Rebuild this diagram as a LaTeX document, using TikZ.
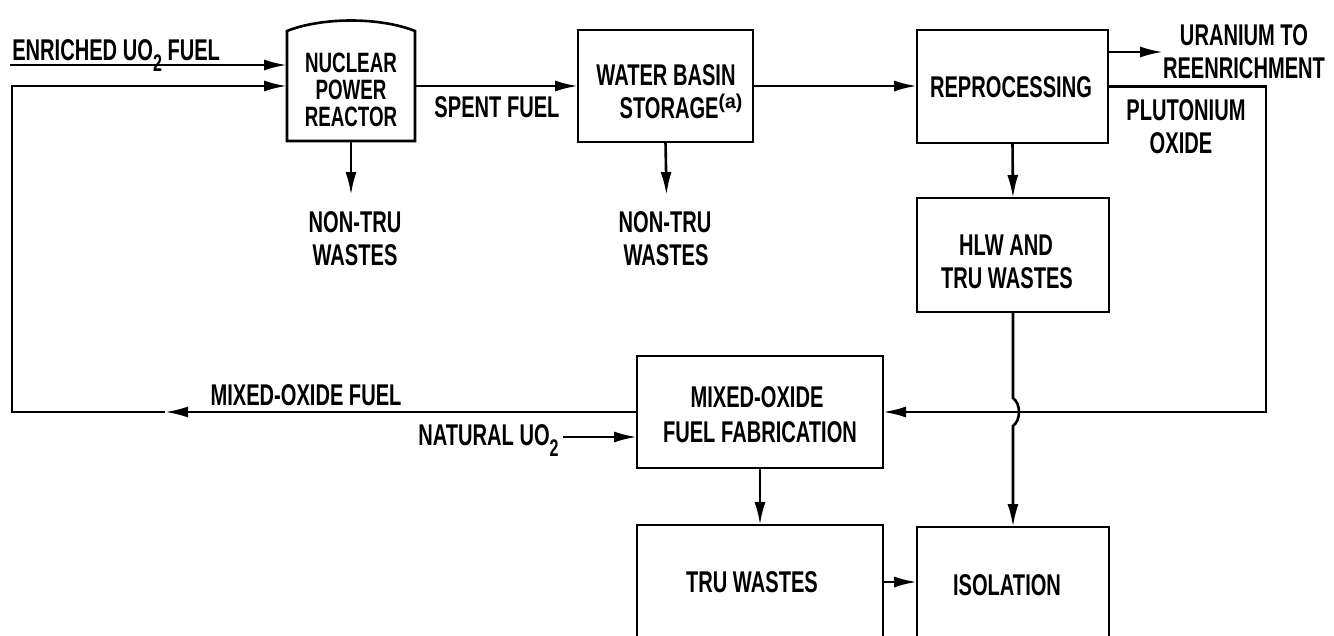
\documentclass[tikz,border=0pt]{standalone}
\usepackage{fontspec}
\setmainfont{Liberation Sans}[FakeStretch=0.67]
\usetikzlibrary{arrows.meta}
\newcommand\subtwo{\raisebox{-11pt}{\fontsize{24}{24}\selectfont 2}}
\newcommand\supa{\raisebox{10pt}{\scalebox{1.45}[1]{\fontsize{20}{20}\selectfont (a)}}}
\begin{document}
\begin{tikzpicture}[x=1pt,y=-1pt,line width=2.6pt,
  txt/.style={font=\fontsize{30}{30}\selectfont\bfseries, inner sep=0pt, anchor=base},
  rtxt/.style={txt, font=\fontsize{28}{28}\selectfont\bfseries},
  box/.style={draw, inner sep=0pt, outer sep=0pt},
  arr/.style={-{Latex[length=23pt,width=11pt]}}]
\useasboundingbox (0,0) rectangle (1334,635);
\clip (0,0) rectangle (1334,635);

% boxes
\node[inner sep=0pt, outer sep=0pt, minimum width=128pt, minimum height=110pt] (reactor) at (351,86) {};
\draw (reactor.north west) .. controls +(35,-14) and +(-35,-14) .. (reactor.north east)
  -- (reactor.south east) -- (reactor.south west) -- cycle;
\node[box, minimum width=175pt, minimum height=112pt] (basin) at (665.5,86) {};
\node[box, minimum width=191pt, minimum height=113pt] (repro) at (1012.5,86.5) {};
\node[box, minimum width=192pt, minimum height=114pt] (hlw) at (1013,255) {};
\node[box, minimum width=246pt, minimum height=112pt] (mox) at (760,412) {};
\node[box, minimum width=246pt, minimum height=130pt] (tru) at (760,590) {};
\node[box, minimum width=192pt, minimum height=128pt] (iso) at (1013,591) {};

% texts
\node[txt, anchor=base west] (tEnr) at (11,60) {ENRICHED UO\subtwo{} FUEL};
\node[rtxt] (tR1) at (351,72) {NUCLEAR};
\node[rtxt] (tR2) at (351,99) {POWER};
\node[rtxt] (tR3) at (351,126) {REACTOR};
\node[txt] (tSpent) at (497,117) {SPENT FUEL};
\node[txt] (tB1) at (666,85) {WATER BASIN};
\node[txt] (tB2) at (681,118) {STORAGE\supa};
\node[txt] (tN1a) at (355,232) {NON-TRU};
\node[txt] (tN1b) at (355,265) {WASTES};
\node[txt] (tN2a) at (665,232) {NON-TRU};
\node[txt] (tN2b) at (666,265) {WASTES};
\node[txt] (tRep) at (1011,97) {REPROCESSING};
\node[txt] (tU1) at (1244,45) {URANIUM TO};
\node[txt] (tU2) at (1244,78) {REENRICHMENT};
\node[txt] (tP1) at (1186,120) {PLUTONIUM};
\node[txt] (tP2) at (1181,153) {OXIDE};
\node[txt] (tH1) at (1006,255) {HLW AND};
\node[txt] (tH2) at (1007,288) {TRU WASTES};
\node[txt] (tMF) at (306,405) {MIXED-OXIDE FUEL};
\node[txt, anchor=base west] (tNat) at (417,445) {NATURAL UO\subtwo};
\node[txt] (tM1) at (757,407) {MIXED-OXIDE};
\node[txt] (tM2) at (760,442) {FUEL FABRICATION};
\node[txt] (tTru) at (752,592) {TRU WASTES};
\node[txt] (tIso) at (1007,595) {ISOLATION};

% free ends
\coordinate (enrIn) at (10,65);
\coordinate (retx) at (12,0);
\coordinate (moxTip) at (165,412);
\coordinate (rw) at (351,195);
\coordinate (bw) at (666.5,195);
\coordinate (u0) at (1108,52);
\coordinate (uTip) at (1163,52);
\coordinate (pux) at (1266,0);
\coordinate (nat) at (563,437);
\coordinate (jmp) at (1013,412);
\coordinate (tiy) at (0,582);

% connectors
\draw[arr] (enrIn) -- (enrIn -| reactor.west);
\draw[arr] (mox.west) -- (moxTip);
\draw[arr] (moxTip) -- (moxTip -| retx) -- (retx |- reactor.west) -- (reactor.west);
\draw[arr] (reactor.east) -- (basin.west);
\draw[arr] (basin.east) -- (basin.east -| repro.west);
\draw[arr] (reactor.south) -- (rw);
\draw[arr] (basin.south) -- (bw);
\draw[arr] (repro.south) -- (hlw.north);
\draw[arr] (u0) -- (uTip);
\draw[arr] (repro.east) -- (repro.east -| pux) -- (pux |- mox.east) -- (mox.east);
\draw[arr] (nat) -- (nat -| mox.west);
\draw[arr] (hlw.south) -- ([yshift=14pt]jmp) .. controls +(8,6) and +(8,-6) .. ([yshift=-14pt]jmp) -- (iso.north);
\draw[arr] (mox.south) -- (tru.north);
\draw[arr] (tiy -| tru.east) -- (tiy -| iso.west);
\end{tikzpicture}
\end{document}
